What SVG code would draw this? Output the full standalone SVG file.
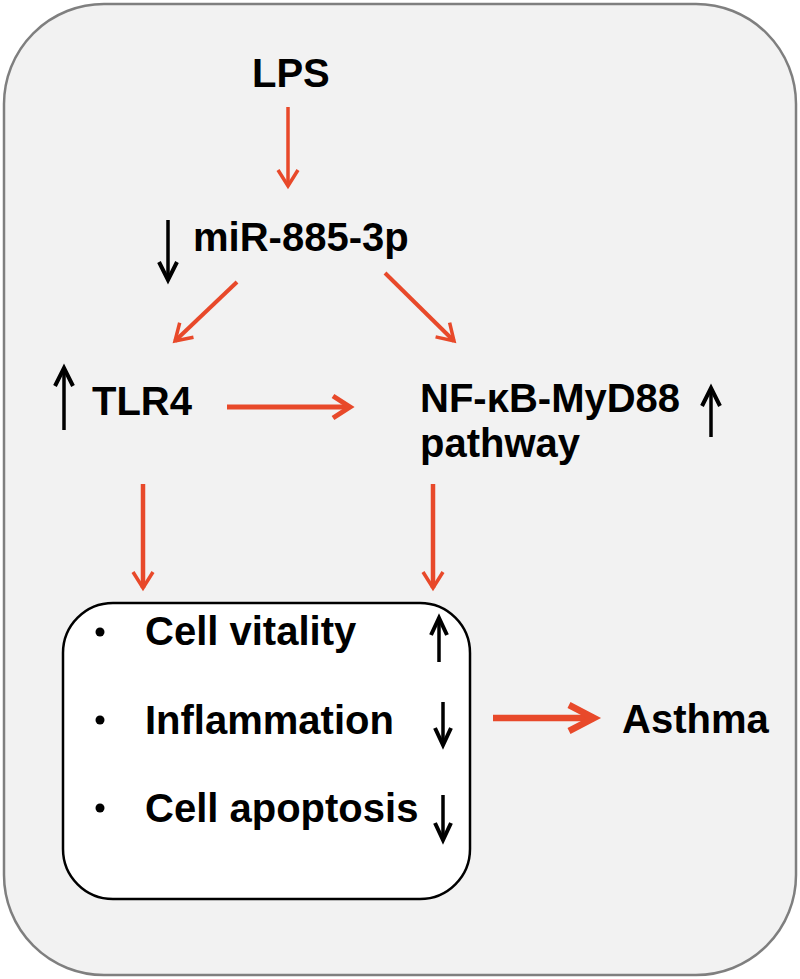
<svg xmlns="http://www.w3.org/2000/svg" width="800" height="979" viewBox="0 0 800 979">
<style>
  text { font-family: "Liberation Sans", Arial, sans-serif; font-weight: bold; font-size: 40px; fill: #000; }
  .red { stroke: #e8492a; fill: none; }
  .blk { stroke: #000; fill: none; stroke-width: 3.5; }
  .bhead { stroke: #000; fill: none; stroke-width: 4; stroke-linejoin: miter; }
</style>
<defs>
  <marker id="ra" markerUnits="userSpaceOnUse" viewBox="-30 -20 40 40" markerWidth="40" markerHeight="40" refX="0" refY="0" orient="auto" overflow="visible">
    <path d="M-16,-10 L0,0 L-16,10" fill="none" stroke="#e8492a" stroke-width="3.5"/>
  </marker>
  <marker id="rb" markerUnits="userSpaceOnUse" viewBox="-30 -20 40 40" markerWidth="40" markerHeight="40" refX="0" refY="0" orient="auto" overflow="visible">
    <path d="M-17,-11 L0,0 L-17,11" fill="none" stroke="#e8492a" stroke-width="5"/>
  </marker>
  <marker id="rc" markerUnits="userSpaceOnUse" viewBox="-40 -20 50 40" markerWidth="50" markerHeight="40" refX="0" refY="0" orient="auto" overflow="visible">
    <path d="M-25,-13 L0,0 L-25,13" fill="none" stroke="#e8492a" stroke-width="6.5"/>
  </marker>
</defs>

<g id="background">
  <rect x="4" y="4" width="792" height="971" rx="100" ry="100" fill="#f2f2f2" stroke="#7f7f7f" stroke-width="2.5"/>
</g>

<g id="connectors">
  <line class="red" x1="288" y1="107" x2="288" y2="186" stroke-width="3.5" marker-end="url(#ra)"/>
  <line class="red" x1="237" y1="282" x2="175" y2="341" stroke-width="4" marker-end="url(#ra)"/>
  <line class="red" x1="385" y1="273" x2="454" y2="341" stroke-width="4" marker-end="url(#ra)"/>
  <line class="red" x1="227" y1="407" x2="350" y2="407" stroke-width="5" marker-end="url(#rb)"/>
  <line class="red" x1="143" y1="484" x2="143" y2="588" stroke-width="4.5" marker-end="url(#ra)"/>
  <line class="red" x1="433" y1="484" x2="433" y2="588" stroke-width="4.5" marker-end="url(#ra)"/>
  <line class="red" x1="493" y1="718" x2="594" y2="718" stroke-width="6.5" marker-end="url(#rc)"/>
</g>

<g id="node-lps">
  <text x="252" y="87">LPS</text>
</g>

<g id="node-mir">
  <line class="blk" x1="168" y1="220" x2="168" y2="278"/>
  <path class="bhead" d="M159,262 L168,280 L177,262"/>
  <text x="193" y="251">miR-885-3p</text>
</g>

<g id="node-tlr4">
  <line class="blk" x1="64" y1="370" x2="64" y2="430"/>
  <path class="bhead" d="M55,386 L64,368 L73,386"/>
  <text x="92" y="415">TLR4</text>
</g>

<g id="node-nfkb">
  <text x="420" y="412">NF-κB-MyD88</text>
  <text x="420" y="457">pathway</text>
  <line class="blk" x1="711" y1="390" x2="711" y2="437"/>
  <path class="bhead" d="M702,406 L711,388 L720,406"/>
</g>

<g id="node-outcomes">
  <rect x="63" y="603" width="407" height="296" rx="50" ry="50" fill="#ffffff" stroke="#000" stroke-width="2.5"/>
  <circle cx="100" cy="632" r="4.5" fill="#000"/>
  <circle cx="100" cy="720" r="4.5" fill="#000"/>
  <circle cx="100" cy="808" r="4.5" fill="#000"/>
  <text x="145" y="645">Cell vitality</text>
  <text x="145" y="734">Inflammation</text>
  <text x="145" y="822">Cell apoptosis</text>
  <line class="blk" x1="439" y1="620" x2="439" y2="662"/>
  <path class="bhead" d="M431,635 L439,618 L447,635"/>
  <line class="blk" x1="443" y1="702" x2="443" y2="743"/>
  <path class="bhead" d="M435,728 L443,745 L451,728"/>
  <line class="blk" x1="443" y1="795" x2="443" y2="838"/>
  <path class="bhead" d="M435,823 L443,840 L451,823"/>
</g>

<g id="node-asthma">
  <text x="622" y="733">Asthma</text>
</g>
</svg>
